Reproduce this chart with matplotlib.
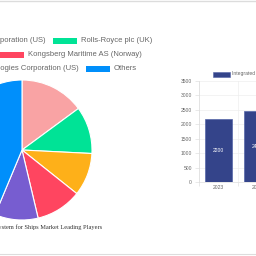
import matplotlib.pyplot as plt
from matplotlib.patches import Rectangle
from matplotlib.lines import Line2D

W = H = 256

# pie data (clockwise from 12 o'clock)
players = ["Northrop Grumman Corporation (US)", "Rolls-Royce plc (UK)",
           "ABB Ltd (Switzerland)", "Kongsberg Maritime AS (Norway)",
           "Raytheon Technologies Corporation (US)", "Others"]
shares = [14.9, 10.9, 9.9, 10.6, 10.0, 43.7]
colors = ["#F9A3A4", "#00E396", "#FEB019", "#FF4560", "#775DD0", "#008FFB"]

# bar data
years = ["2023", "2024"]
sizes = [2200, 2450]
series_name = "Integrated Bridge System for Ships"

fig = plt.figure(figsize=(2.56, 2.56), dpi=100)
fig.patch.set_facecolor("white")


def fx(x):
    return x / W


def fy(y):
    return 1 - y / H


# page borders
fig.add_artist(Line2D([0, 1], [fy(0.5), fy(0.5)], color="#dcdcdc", lw=1.0))
fig.add_artist(Line2D([0, 1], [fy(254), fy(254)], color="#dddddd", lw=0.8))

# pie
cx, cy, r = 22, 150, 70
axp = fig.add_axes([fx(cx - r), fy(cy + r), 2 * r / W, 2 * r / H])
axp.pie(shares, colors=colors, startangle=90, counterclock=False,
        wedgeprops=dict(edgecolor="white", linewidth=0.8))
axp.set_xlim(-1, 1)
axp.set_ylim(-1, 1)
axp.set_aspect("equal")
axp.axis("off")

# pie legend, rows centred like the web chart
font = "Liberation Sans"
fs = 5.5
rows = [[(0, -100), (1, 53)], [(2, -120), (3, 0)], [(4, -30), (5, 86)]]
row_y = [41, 55, 69]
for row, yy in zip(rows, row_y):
    for i, bx in row:
        fig.add_artist(Rectangle((fx(bx), fy(yy + 2.8)), 24 / W, 5.6 / H,
                                 facecolor=colors[i], edgecolor="none"))
        fig.text(fx(bx + 28), fy(yy), players[i], fontsize=fs, family=font,
                 color="#666666", va="center", ha="left")
# first item of row 1 and row 3 end at fixed spots
fig.texts[0].set_position((fx(46), fy(41)))
fig.texts[0].set_ha("right")
fig.texts[4].set_position((fx(79), fy(69)))
fig.texts[4].set_ha("right")

fig.text(fx(102), fy(227), series_name + " Market Leading Players",
         fontsize=4.6, family="Liberation Serif", color="#333333",
         ha="right", va="center")

# bar chart
x0, y0, y1 = 199, 182, 81
cw = 39
axb = fig.add_axes([fx(x0), fy(y0), 2 * cw / W, (y0 - y1) / H])
bars = axb.bar(years, sizes, width=0.7, color="#34448A", edgecolor="#5565a8",
               linewidth=0.5, zorder=3)
for b, v in zip(bars, sizes):
    axb.text(b.get_x() + b.get_width() / 2, v / 2, str(v), color="white",
             fontsize=3.6, family=font, ha="center", va="center", zorder=4)
axb.set_xlim(-0.5, 1.5)
axb.set_ylim(0, 3500)
axb.set_yticks(range(0, 3501, 500))
axb.set_xticks([-0.5, 0.5, 1.5], minor=True)
axb.grid(True, axis="y", color="#eeeeee", lw=0.5, zorder=0)
axb.grid(True, axis="x", which="minor", color="#eeeeee", lw=0.5, zorder=0)
axb.tick_params(axis="both", which="major", labelsize=3.6, colors="#666666",
                length=0, pad=2)
axb.tick_params(axis="x", which="minor", length=3, color="#e0e0e0", width=0.5)
axb.tick_params(axis="y", length=3, color="#e0e0e0", width=0.5)
for lab in axb.get_xticklabels() + axb.get_yticklabels():
    lab.set_family(font)
for s in ["top", "right"]:
    axb.spines[s].set_visible(False)
for s in ["left", "bottom"]:
    axb.spines[s].set_color("#dddddd")
    axb.spines[s].set_linewidth(0.5)

fig.add_artist(Rectangle((fx(213), fy(76.5)), 17 / W, 5 / H,
                         facecolor="#34448A", edgecolor="#5565a8", lw=0.4))
fig.text(fx(232.5), fy(74), series_name, fontsize=3.6, family=font,
         color="#666666", va="center", ha="left")

fig.savefig("out.png", dpi=100)
